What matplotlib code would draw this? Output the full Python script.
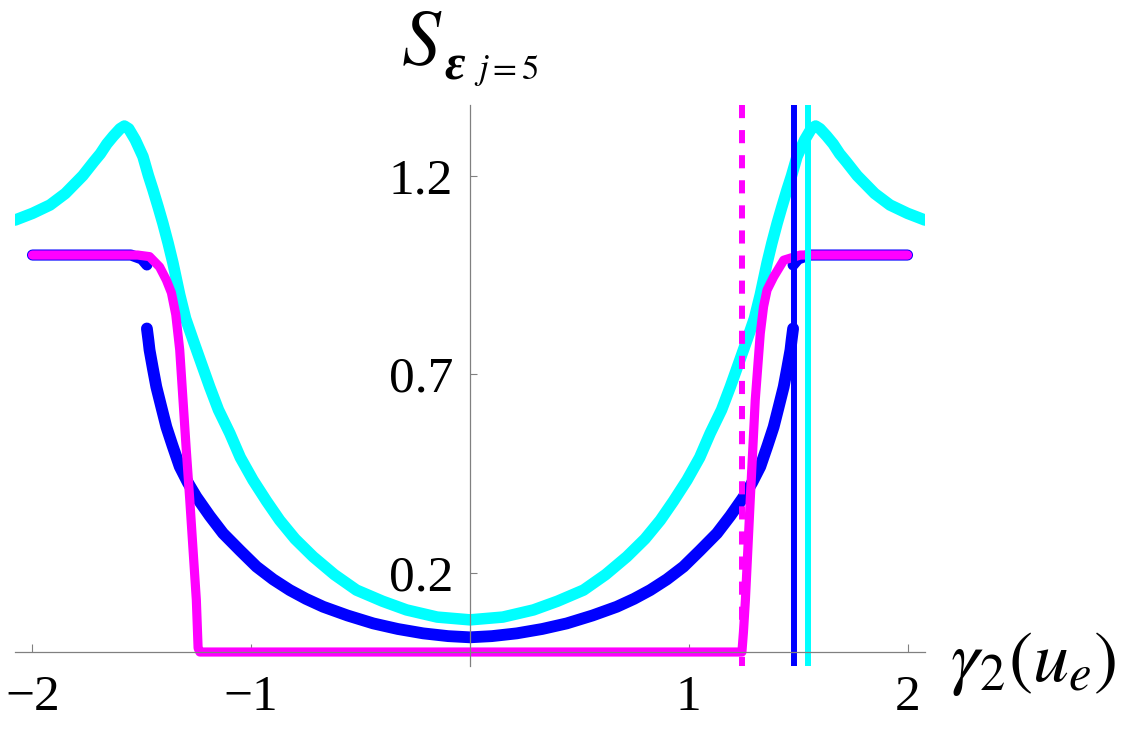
import numpy as np
import matplotlib.pyplot as plt

# values (curves are symmetric about 0)
cyan_x = [-2.08, -2.00, -1.92, -1.85, -1.77, -1.72, -1.69, -1.66, -1.63, -1.60,
          -1.58, -1.56, -1.53, -1.495, -1.47, -1.449, -1.425, -1.404, -1.38,
          -1.358, -1.327, -1.30, -1.266, -1.23, -1.19, -1.15, -1.098, -1.05,
          -0.992, -0.93, -0.87, -0.80, -0.717, -0.62, -0.519, -0.40, -0.29,
          -0.15, 0.0,
          0.15, 0.29, 0.40, 0.519, 0.62, 0.717, 0.80, 0.87, 0.93, 0.992, 1.05,
          1.098, 1.15, 1.19, 1.23, 1.266, 1.30, 1.327, 1.358, 1.38, 1.404,
          1.425, 1.449, 1.47, 1.495, 1.53, 1.56, 1.58, 1.60, 1.63, 1.66, 1.69,
          1.72, 1.77, 1.85, 1.92, 2.00, 2.08]
cyan_y = [1.088, 1.105, 1.126, 1.155, 1.200, 1.235, 1.255, 1.28, 1.30, 1.318,
          1.325, 1.318, 1.29, 1.248, 1.20, 1.164, 1.12, 1.08, 1.03,
          0.98, 0.90, 0.84, 0.786, 0.73, 0.668, 0.61, 0.551, 0.49,
          0.433, 0.38, 0.332, 0.285, 0.240, 0.195, 0.156, 0.128, 0.106,
          0.088, 0.081,
          0.088, 0.106, 0.128, 0.156, 0.195, 0.240, 0.285, 0.332, 0.38, 0.433, 0.49,
          0.551, 0.61, 0.668, 0.73, 0.786, 0.84, 0.90, 0.98, 1.03, 1.08,
          1.12, 1.164, 1.20, 1.248, 1.29, 1.318, 1.325, 1.318, 1.30, 1.28, 1.255,
          1.235, 1.200, 1.155, 1.126, 1.105, 1.088]

blue_left_top_x = [-2.0, -1.55, -1.50, -1.477]
blue_left_top_y = [1.0, 1.0, 0.99, 0.975]
blue_right_top_x = [1.477, 1.50, 1.55, 2.0]
blue_right_top_y = [0.975, 0.99, 1.0, 1.0]
blue_x = [-1.477, -1.47, -1.465, -1.45, -1.434, -1.41, -1.388, -1.36, -1.327,
          -1.29, -1.251, -1.19, -1.129, -1.05, -0.976, -0.90, -0.824, -0.75,
          -0.671, -0.56, -0.442, -0.33, -0.214, -0.10, 0.0,
          0.10, 0.214, 0.33, 0.442, 0.56, 0.671, 0.75, 0.824, 0.90, 0.976,
          1.05, 1.129, 1.19, 1.251, 1.29, 1.327, 1.36, 1.388, 1.41, 1.434,
          1.45, 1.465, 1.47, 1.477]
blue_y = [0.815, 0.785, 0.761, 0.715, 0.668, 0.615, 0.567, 0.52, 0.467,
          0.427, 0.391, 0.343, 0.299, 0.255, 0.215, 0.183, 0.156, 0.134,
          0.114, 0.092, 0.072, 0.058, 0.047, 0.040, 0.037,
          0.040, 0.047, 0.058, 0.072, 0.092, 0.114, 0.134, 0.156, 0.183, 0.215,
          0.255, 0.299, 0.343, 0.391, 0.427, 0.467, 0.52, 0.567, 0.615, 0.668,
          0.715, 0.761, 0.785, 0.815]

mag_x = [-2.0, -1.52, -1.465, -1.419, -1.388, -1.365, -1.345, -1.327, -1.312,
         -1.297, -1.281, -1.266, -1.251, -1.243, -1.235, 1.243, 1.25, 1.259,
         1.281, 1.304, 1.327, 1.342, 1.358, 1.388, 1.434, 1.51, 2.0]
mag_y = [1.0, 1.0, 0.996, 0.97, 0.937, 0.905, 0.85, 0.761, 0.635,
         0.509, 0.383, 0.257, 0.131, 0.01, 0.0, 0.0, 0.05, 0.131,
         0.383, 0.635, 0.803, 0.87, 0.912, 0.945, 0.987, 1.0, 1.0]

vline_mag = 1.245
vline_blue = 1.483
vline_cyan = 1.547

xticks = [-2, -1, 1, 2]
yticks = [0.2, 0.7, 1.2]

fig = plt.figure(figsize=(11.25, 7.3), dpi=100)
ax = fig.add_axes([0.01333, 0.0878, 0.8089, 0.7684])
ax.set_xlim(-2.08, 2.08)
ax.set_ylim(-0.035, 1.378)

ax.plot(cyan_x, cyan_y, color='#00ffff', lw=8.3, solid_capstyle='round',
        solid_joinstyle='round', zorder=3)
ax.plot(blue_left_top_x, blue_left_top_y, color='#0000ff', lw=8, solid_capstyle='round', zorder=3)
ax.plot(blue_right_top_x, blue_right_top_y, color='#0000ff', lw=8, solid_capstyle='round', zorder=3)
ax.plot(blue_x, blue_y, color='#0000ff', lw=8.5, solid_capstyle='round',
        solid_joinstyle='round', zorder=4)
ax.plot(mag_x, mag_y, color='#ff00ff', lw=6.6, solid_capstyle='round',
        solid_joinstyle='round', zorder=5)

ax.axvline(vline_mag, ymin=1, ymax=0, color='#ff00ff', lw=4.3,
           dashes=(2.2, 2.0), zorder=6)
ax.axvline(vline_blue, color='#0000ff', lw=4.3, zorder=6)
ax.axvline(vline_cyan, color='#00ffff', lw=4.3, zorder=6)

for s in ['top', 'right']:
    ax.spines[s].set_visible(False)
ax.spines['left'].set_position(('data', 0))
ax.spines['bottom'].set_position(('data', 0))
for s in ['left', 'bottom']:
    ax.spines[s].set_color('#808080')
    ax.spines[s].set_linewidth(0.9)
    ax.spines[s].set_zorder(7)

ax.set_xticks(xticks)
ax.set_xticklabels(['\u22122', '\u22121', '1', '2'])
ax.set_yticks(yticks)
ax.set_yticklabels(['0.2', '0.7', '1.2'])
ax.tick_params(axis='x', direction='in', length=6, width=0.8, color='#808080',
               pad=16, labelsize=37)
ax.tick_params(axis='y', direction='in', length=5, width=0.8, color='#808080',
               pad=12, labelsize=37)
for lab in ax.get_xticklabels() + ax.get_yticklabels():
    lab.set_family('Liberation Serif')

plt.rcParams['mathtext.fontset'] = 'stix'
# axis labels
fig.text(401 / 1125, 1 - 64 / 730, r'$S$', fontsize=56, va='baseline', ha='left')
fig.text(444 / 1125, 1 - 80 / 730, '\u03b5', fontsize=36, style='italic',
         weight='bold', family='Liberation Serif', va='baseline', ha='left')
fig.text(474 / 1125, 1 - 79 / 730, r'$j=5$', fontsize=25, va='baseline', ha='left')
fig.text(950 / 1125, 1 - 681 / 730, r'$\gamma_{2}(u_{e})$', fontsize=52,
         va='baseline', ha='left')

fig.savefig('out.png', dpi=100)
